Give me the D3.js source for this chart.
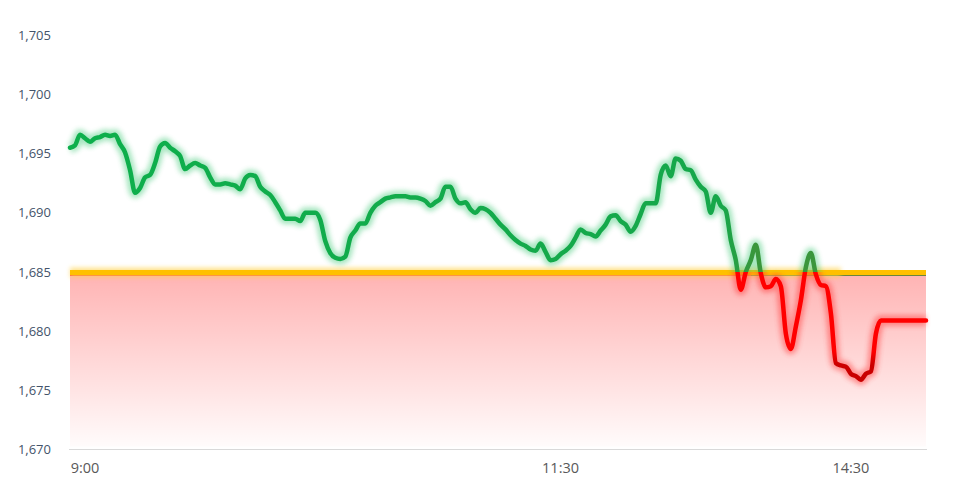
<!DOCTYPE html>
<html>
<head>
<meta charset="utf-8">
<script src="https://cdn.jsdelivr.net/npm/d3@7"></script>
<style>
  html, body { margin: 0; padding: 0; background: #fff; }
  svg { display: block; }
</style>
</head>
<body>
<svg width="975" height="478"></svg>
<script>
// intraday price, one value per sample (x axis is sample index, not clock time)
const values = [
    1695.5, 1695.7, 1696.6, 1696.3, 1696.0, 1696.3, 1696.4, 1696.6, 1696.5, 1696.6,
    1695.8, 1695.1, 1693.6, 1691.7, 1692.1, 1693.0, 1693.2, 1694.2, 1695.6, 1695.9,
    1695.5, 1695.2, 1694.8, 1693.7, 1694.0, 1694.2, 1694.0, 1693.8, 1693.0, 1692.4,
    1692.4, 1692.5, 1692.4, 1692.3, 1692.0, 1692.9, 1693.2, 1693.1, 1692.2, 1691.8,
    1691.5, 1690.9, 1690.2, 1689.5, 1689.5, 1689.5, 1689.3, 1690.0, 1690.0, 1690.0,
    1689.4, 1687.6, 1686.6, 1686.2, 1686.1, 1686.3, 1687.9, 1688.5, 1689.1, 1689.1,
    1690.0, 1690.6, 1690.9, 1691.2, 1691.3, 1691.4, 1691.4, 1691.4, 1691.3, 1691.3,
    1691.2, 1691.0, 1690.6, 1690.9, 1691.2, 1692.2, 1692.2, 1691.2, 1690.8, 1690.9,
    1690.3, 1690.0, 1690.4, 1690.3, 1690.0, 1689.5, 1689.0, 1688.6, 1688.1, 1687.7,
    1687.4, 1687.2, 1686.9, 1686.8, 1687.4, 1686.7, 1686.0, 1686.1, 1686.5, 1686.8,
    1687.2, 1687.9, 1688.6, 1688.3, 1688.2, 1688.0, 1688.5, 1689.0, 1689.7, 1689.8,
    1689.3, 1689.0, 1688.4, 1688.9, 1689.9, 1690.8, 1690.8, 1690.8, 1693.2, 1694.0,
    1693.1, 1694.6, 1694.4, 1693.7, 1693.6, 1692.8, 1692.2, 1691.8, 1690.0, 1691.4,
    1690.6, 1690.2, 1687.7, 1686.0, 1683.5, 1685.0, 1686.0, 1687.3, 1684.9, 1683.7,
    1683.8, 1684.4, 1683.8, 1679.8, 1678.5, 1680.4, 1682.6, 1685.4, 1686.6, 1684.8,
    1683.9, 1683.8, 1681.5, 1677.3, 1677.1, 1677.0, 1676.4, 1676.2, 1675.9, 1676.4,
    1676.6, 1679.8, 1680.9, 1680.9, 1680.9, 1680.9, 1680.9, 1680.9, 1680.9, 1680.9,
    1680.9, 1680.9
]

const baseValue = 1685,
    yTicks = [1670, 1675, 1680, 1685, 1690, 1695, 1700, 1705],
    xTickIndex = [3, 98, 156],
    xTickLabels = ['9:00', '11:30', '14:30'],
    baseGlowEnd = 154,   // sample index where the glow of the base line stops
    baseGreenStart = 136 // sample index where the thin green edge begins

const svg = d3.select('svg'),
    width = +svg.attr('width'),
    height = +svg.attr('height')

const x = d3.scaleLinear()
    .domain([0, values.length - 1])
    .range([70, 926]),
    y = d3.scaleLinear()
    .domain([1670, 1705])
    .range([449.5, 35.3])

const defs = svg.append('defs')

function blurFilter(id, sd) {
    defs.append('filter')
        .attr('id', id)
        .attr('filterUnits', 'userSpaceOnUse')
        .attr('x', 0).attr('y', 0)
        .attr('width', width).attr('height', height)
        .append('feGaussianBlur')
        .attr('stdDeviation', sd)
}
blurFilter('glow', 2.4)
blurFilter('glowYellow', 2)

// area fill gradient (red fading to white)
const areaGrad = defs.append('linearGradient')
    .attr('id', 'areaGrad')
    .attr('gradientUnits', 'userSpaceOnUse')
    .attr('x1', 0).attr('x2', 0)
    .attr('y1', y(baseValue)).attr('y2', y(1670))
areaGrad.append('stop').attr('offset', 0).attr('stop-color', '#ff0000').attr('stop-opacity', 0.3)
areaGrad.append('stop').attr('offset', 1).attr('stop-color', '#ff0000').attr('stop-opacity', 0.01)

// green line: slightly darker toward the afternoon
const greenGrad = defs.append('linearGradient')
    .attr('id', 'greenGrad')
    .attr('gradientUnits', 'userSpaceOnUse')
    .attr('x1', x(0)).attr('x2', x(values.length - 1))
    .attr('y1', 0).attr('y2', 0)
greenGrad.append('stop').attr('offset', 0).attr('stop-color', '#0daf4c')
greenGrad.append('stop').attr('offset', 0.76).attr('stop-color', '#16a74a')
greenGrad.append('stop').attr('offset', 0.8).attr('stop-color', '#3a963c')
greenGrad.append('stop').attr('offset', 1).attr('stop-color', '#3a963c')

// red line: darker at the lowest prices
const redGrad = defs.append('linearGradient')
    .attr('id', 'redGrad')
    .attr('gradientUnits', 'userSpaceOnUse')
    .attr('x1', 0).attr('x2', 0)
    .attr('y1', y(baseValue)).attr('y2', y(1675))
redGrad.append('stop').attr('offset', 0).attr('stop-color', '#ff0000')
redGrad.append('stop').attr('offset', 0.67).attr('stop-color', '#ff0000')
redGrad.append('stop').attr('offset', 0.78).attr('stop-color', '#cc0000')
redGrad.append('stop').attr('offset', 1).attr('stop-color', '#c40000')

// clip regions above / below the base value
defs.append('clipPath').attr('id', 'above')
    .append('rect')
    .attr('x', 0).attr('y', 0)
    .attr('width', width).attr('height', y(baseValue))
defs.append('clipPath').attr('id', 'below')
    .append('rect')
    .attr('x', 0).attr('y', y(baseValue))
    .attr('width', width).attr('height', height - y(baseValue))

// y axis labels
svg.append('g')
    .selectAll('text')
    .data(yTicks)
    .enter().append('text')
    .attr('x', 51)
    .attr('y', (d) => y(d))
    .attr('dy', '0.35em')
    .style('text-anchor', 'end')
    .style('font-family', '"Open Sans", "Noto Sans", sans-serif')
    .style('font-size', '13px')
    .style('fill', '#44546a')
    .text((d) => d3.format(',')(d))

// bottom axis line
svg.append('line')
    .attr('x1', x(0) - 1).attr('x2', x(values.length - 1) + 1)
    .attr('y1', y(1670)).attr('y2', y(1670))
    .style('stroke', '#d9d9d9')
    .style('stroke-width', 1)

// x labels
svg.append('g')
    .selectAll('text')
    .data(xTickIndex)
    .enter().append('text')
    .attr('x', (d) => x(d))
    .attr('y', 473)
    .style('text-anchor', 'middle')
    .style('font-family', '"Open Sans", "Noto Sans", sans-serif')
    .style('font-size', '14.5px')
    .style('fill', '#595959')
    .text((d, i) => xTickLabels[i])

// red area under the base value
const area = d3.area()
    .x((d, i) => x(i))
    .y0(y(1670) - 3)
    .y1(y(baseValue))
svg.append('path')
    .datum(values)
    .attr('d', area)
    .style('fill', 'url(#areaGrad)')

// thin edges under the base line
svg.append('line')
    .attr('x1', x(0)).attr('x2', x(values.length - 1))
    .attr('y1', y(baseValue) + 3).attr('y2', y(baseValue) + 3)
    .style('stroke', '#ff3b1f')
    .style('stroke-width', 1.3)
svg.append('line')
    .attr('x1', x(baseGreenStart)).attr('x2', x(values.length - 1))
    .attr('y1', y(baseValue) + 3).attr('y2', y(baseValue) + 3)
    .style('stroke', '#3a963c')
    .style('stroke-width', 1.3)

// base line (yellow) with glow over part of the day
svg.append('line')
    .attr('x1', x(0)).attr('x2', x(baseGlowEnd))
    .attr('y1', y(baseValue) + 0.5).attr('y2', y(baseValue) + 0.5)
    .style('stroke', '#ffd24a')
    .style('stroke-width', 10)
    .style('opacity', 0.6)
    .attr('filter', 'url(#glowYellow)')
svg.append('line')
    .attr('x1', x(0)).attr('x2', x(values.length - 1))
    .attr('y1', y(baseValue) + 0.5).attr('y2', y(baseValue) + 0.5)
    .style('stroke', '#ffc000')
    .style('stroke-width', 5)

// price line, split into green (above base) and red (below base)
const line = d3.line()
    .x((d, i) => x(i))
    .y((d) => y(d))
    .curve(d3.curveMonotoneX)

const parts = [
    { clip: 'above', stroke: 'url(#greenGrad)', glow: '#3cc875' },
    { clip: 'below', stroke: 'url(#redGrad)', glow: '#ff3030' }
]

parts.forEach(function (p) {
    const g = svg.append('g').attr('clip-path', 'url(#' + p.clip + ')')
    g.append('path')
        .datum(values)
        .attr('d', line)
        .style('fill', 'none')
        .style('stroke', p.glow)
        .style('stroke-width', 11)
        .style('stroke-linejoin', 'round')
        .style('opacity', 0.45)
        .attr('filter', 'url(#glow)')
    g.append('path')
        .datum(values)
        .attr('d', line)
        .style('fill', 'none')
        .style('stroke', p.stroke)
        .style('stroke-width', 4.5)
        .style('stroke-linejoin', 'round')
        .style('stroke-linecap', 'round')
})
</script>
</body>
</html>
